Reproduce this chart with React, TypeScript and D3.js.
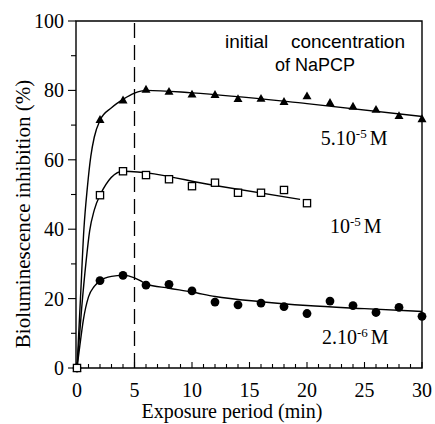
import React from "react";
import * as d3 from "d3";

// ---- data ----
const triX = [0, 2, 4, 6, 8, 10, 12, 14, 16, 18, 20, 22, 24, 26, 28, 30];
const triY = [0, 71.6, 77.2, 80.3, 79.7, 78.9, 78.8, 77.6, 77.7, 76.8, 78.4, 76.5, 75.4, 74.5, 72.7, 71.8];

const sqX = [0, 2, 4, 6, 8, 10, 12, 14, 16, 18, 20];
const sqY = [0, 49.8, 56.7, 55.6, 54.4, 52.4, 53.4, 50.5, 50.5, 51.3, 47.5];

const ciX = [0, 2, 4, 6, 8, 10, 12, 14, 16, 18, 20, 22, 24, 26, 28, 30];
const ciY = [0, 25.2, 26.7, 23.9, 24.1, 22.2, 19.0, 18.2, 18.7, 17.7, 15.7, 19.3, 18.0, 16.0, 17.5, 14.9];

// fitted curves (knots)
const triFitX = [0, 0.3, 0.6, 0.9, 1.2, 1.5, 2, 3, 4, 5, 6, 10, 20, 30];
const triFitY = [0, 20, 40, 52, 61, 66.5, 71.4, 75, 77.4, 79.2, 80, 79.3, 76.2, 72.5];

const sqFitX = [0, 0.4, 0.8, 1.1, 1.5, 2, 4, 12, 19.4];
const sqFitY = [0, 17, 31, 39.5, 45.5, 49.8, 56.7, 52.6, 48.6];

const ciFitX = [0, 0.25, 0.55, 1, 1.5, 2, 3, 4, 5, 5.5, 6, 8, 10, 12, 16, 20, 25, 30];
const ciFitY = [0, 6.5, 13.8, 20.5, 23.5, 25.1, 26.4, 26.7, 26, 25.2, 24.2, 23, 21.9, 20.6, 19.1, 18, 17.1, 16.3];

const xTickLabels = [0, 5, 10, 15, 20, 25, 30];
const yTickLabels = [0, 20, 40, 60, 80, 100];
const dashedAt = 5;

const seriesLabels = [
  { pre: "5.10", sup: "-5", post: "M", x: 21.2, y: 64.3 },
  { pre: "10", sup: "-5", post: "M", x: 22.0, y: 38.8 },
  { pre: "2.10", sup: "-6", post: "M", x: 21.3, y: 6.9 },
];
const noteWords = ["initial", "concentration"];
const noteLine2 = "of NaPCP";

const W = 435;
const H = 424;

export default function App() {
  const x = d3.scaleLinear().domain([0, 30]).range([77, 422]);
  const y = d3.scaleLinear().domain([0, 100]).range([368, 21]);
  const serif = "'Liberation Serif', 'Times New Roman', serif";
  const sans = "'Liberation Sans', Arial, sans-serif";

  const line = d3
    .line<[number, number]>()
    .x((d) => x(d[0]))
    .y((d) => y(d[1]))
    .curve(d3.curveMonotoneX);

  const zip = (a: number[], b: number[]) => a.map((v, i) => [v, b[i]] as [number, number]);

  const x0 = 76;
  const x1 = x(30);
  const yb = y(0);
  const yt = y(100);

  const xMinor = d3.range(0, 31, 1);
  const yMinor = d3.range(0, 101, 10);

  const tri = (cx: number, cy: number) => {
    const s = 4.5;
    return `M${cx},${cy - s} L${cx + s},${cy + s * 0.75} L${cx - s},${cy + s * 0.75} Z`;
  };

  return (
    <svg
      width={W}
      height={H}
      style={{ position: "absolute", left: 0, top: 0, background: "#fff" }}
    >
      <rect width={W} height={H} fill="#fff" />
      {/* frame */}
      <path
        d={`M${x0},${yb} L${x0},${yt} L${x1},${yt} L${x1},${yb} Z`}
        fill="none"
        stroke="#000"
        strokeWidth={1.4}
      />
      {/* x ticks (inside) */}
      {xMinor.map((t) => (
        <line
          key={"xt" + t}
          x1={x(t)}
          x2={x(t)}
          y1={yb}
          y2={yb - (t % 5 === 0 ? 6 : 4)}
          stroke="#000"
          strokeWidth={1.1}
        />
      ))}
      {/* y ticks (outside) */}
      {yMinor.map((t) => (
        <line
          key={"yt" + t}
          x1={x0}
          x2={x0 - (t % 20 === 0 ? 8 : 5)}
          y1={y(t)}
          y2={y(t)}
          stroke="#000"
          strokeWidth={1.1}
        />
      ))}
      {xTickLabels.map((t) => (
        <text
          key={"xl" + t}
          x={x(t)}
          y={397}
          textAnchor="middle"
          fontFamily={serif}
          fontSize={20}
        >
          {t}
        </text>
      ))}
      {yTickLabels.map((t) => (
        <text
          key={"yl" + t}
          x={64}
          y={y(t) + 7}
          textAnchor="end"
          fontFamily={serif}
          fontSize={20}
        >
          {t}
        </text>
      ))}
      {/* axis titles */}
      <text x={232} y={418} textAnchor="middle" fontFamily={serif} fontSize={20}>
        Exposure period (min)
      </text>
      <text
        transform={`translate(30,214) rotate(-90)`}
        textAnchor="middle"
        fontFamily={serif}
        fontSize={21}
      >
        Bioluminescence inhibition (%)
      </text>

      {/* dashed line */}
      <line
        x1={x(dashedAt)}
        x2={x(dashedAt)}
        y1={yb}
        y2={yt}
        stroke="#000"
        strokeWidth={1.3}
        strokeDasharray="15,7"
      />

      {/* fitted curves */}
      <path d={line(zip(triFitX, triFitY)) || ""} fill="none" stroke="#000" strokeWidth={1.4} />
      <path d={line(zip(sqFitX, sqFitY)) || ""} fill="none" stroke="#000" strokeWidth={1.4} />
      <path d={line(zip(ciFitX, ciFitY)) || ""} fill="none" stroke="#000" strokeWidth={1.4} />

      {/* markers */}
      {triX.map((v, i) => (
        <path key={"tr" + i} d={tri(x(v), y(triY[i]))} fill="#000" />
      ))}
      {ciX.map((v, i) => (
        <circle key={"ci" + i} cx={x(v)} cy={y(ciY[i])} r={4.4} fill="#000" />
      ))}
      {sqX.map((v, i) => (
        <rect
          key={"sq" + i}
          x={x(v) - 3.6}
          y={y(sqY[i]) - 3.6}
          width={7.2}
          height={7.2}
          fill="#fff"
          stroke="#000"
          strokeWidth={1.3}
        />
      ))}

      {/* annotation */}
      <text x={225} y={48} fontFamily={sans} fontSize={19}>
        {noteWords[0]}
      </text>
      <text x={405} y={48} textAnchor="end" fontFamily={sans} fontSize={19}>
        {noteWords[1]}
      </text>
      <text x={315} y={71} textAnchor="middle" fontFamily={sans} fontSize={18}>
        {noteLine2}
      </text>

      {/* series labels */}
      {seriesLabels.map((l, i) => (
        <text key={"sl" + i} x={x(l.x)} y={y(l.y)} fontFamily={serif} fontSize={20}>
          {l.pre}
          <tspan dy={-7} fontSize={13}>
            {l.sup}
          </tspan>
          <tspan dy={7} dx={3}>
            {l.post}
          </tspan>
        </text>
      ))}
    </svg>
  );
}
